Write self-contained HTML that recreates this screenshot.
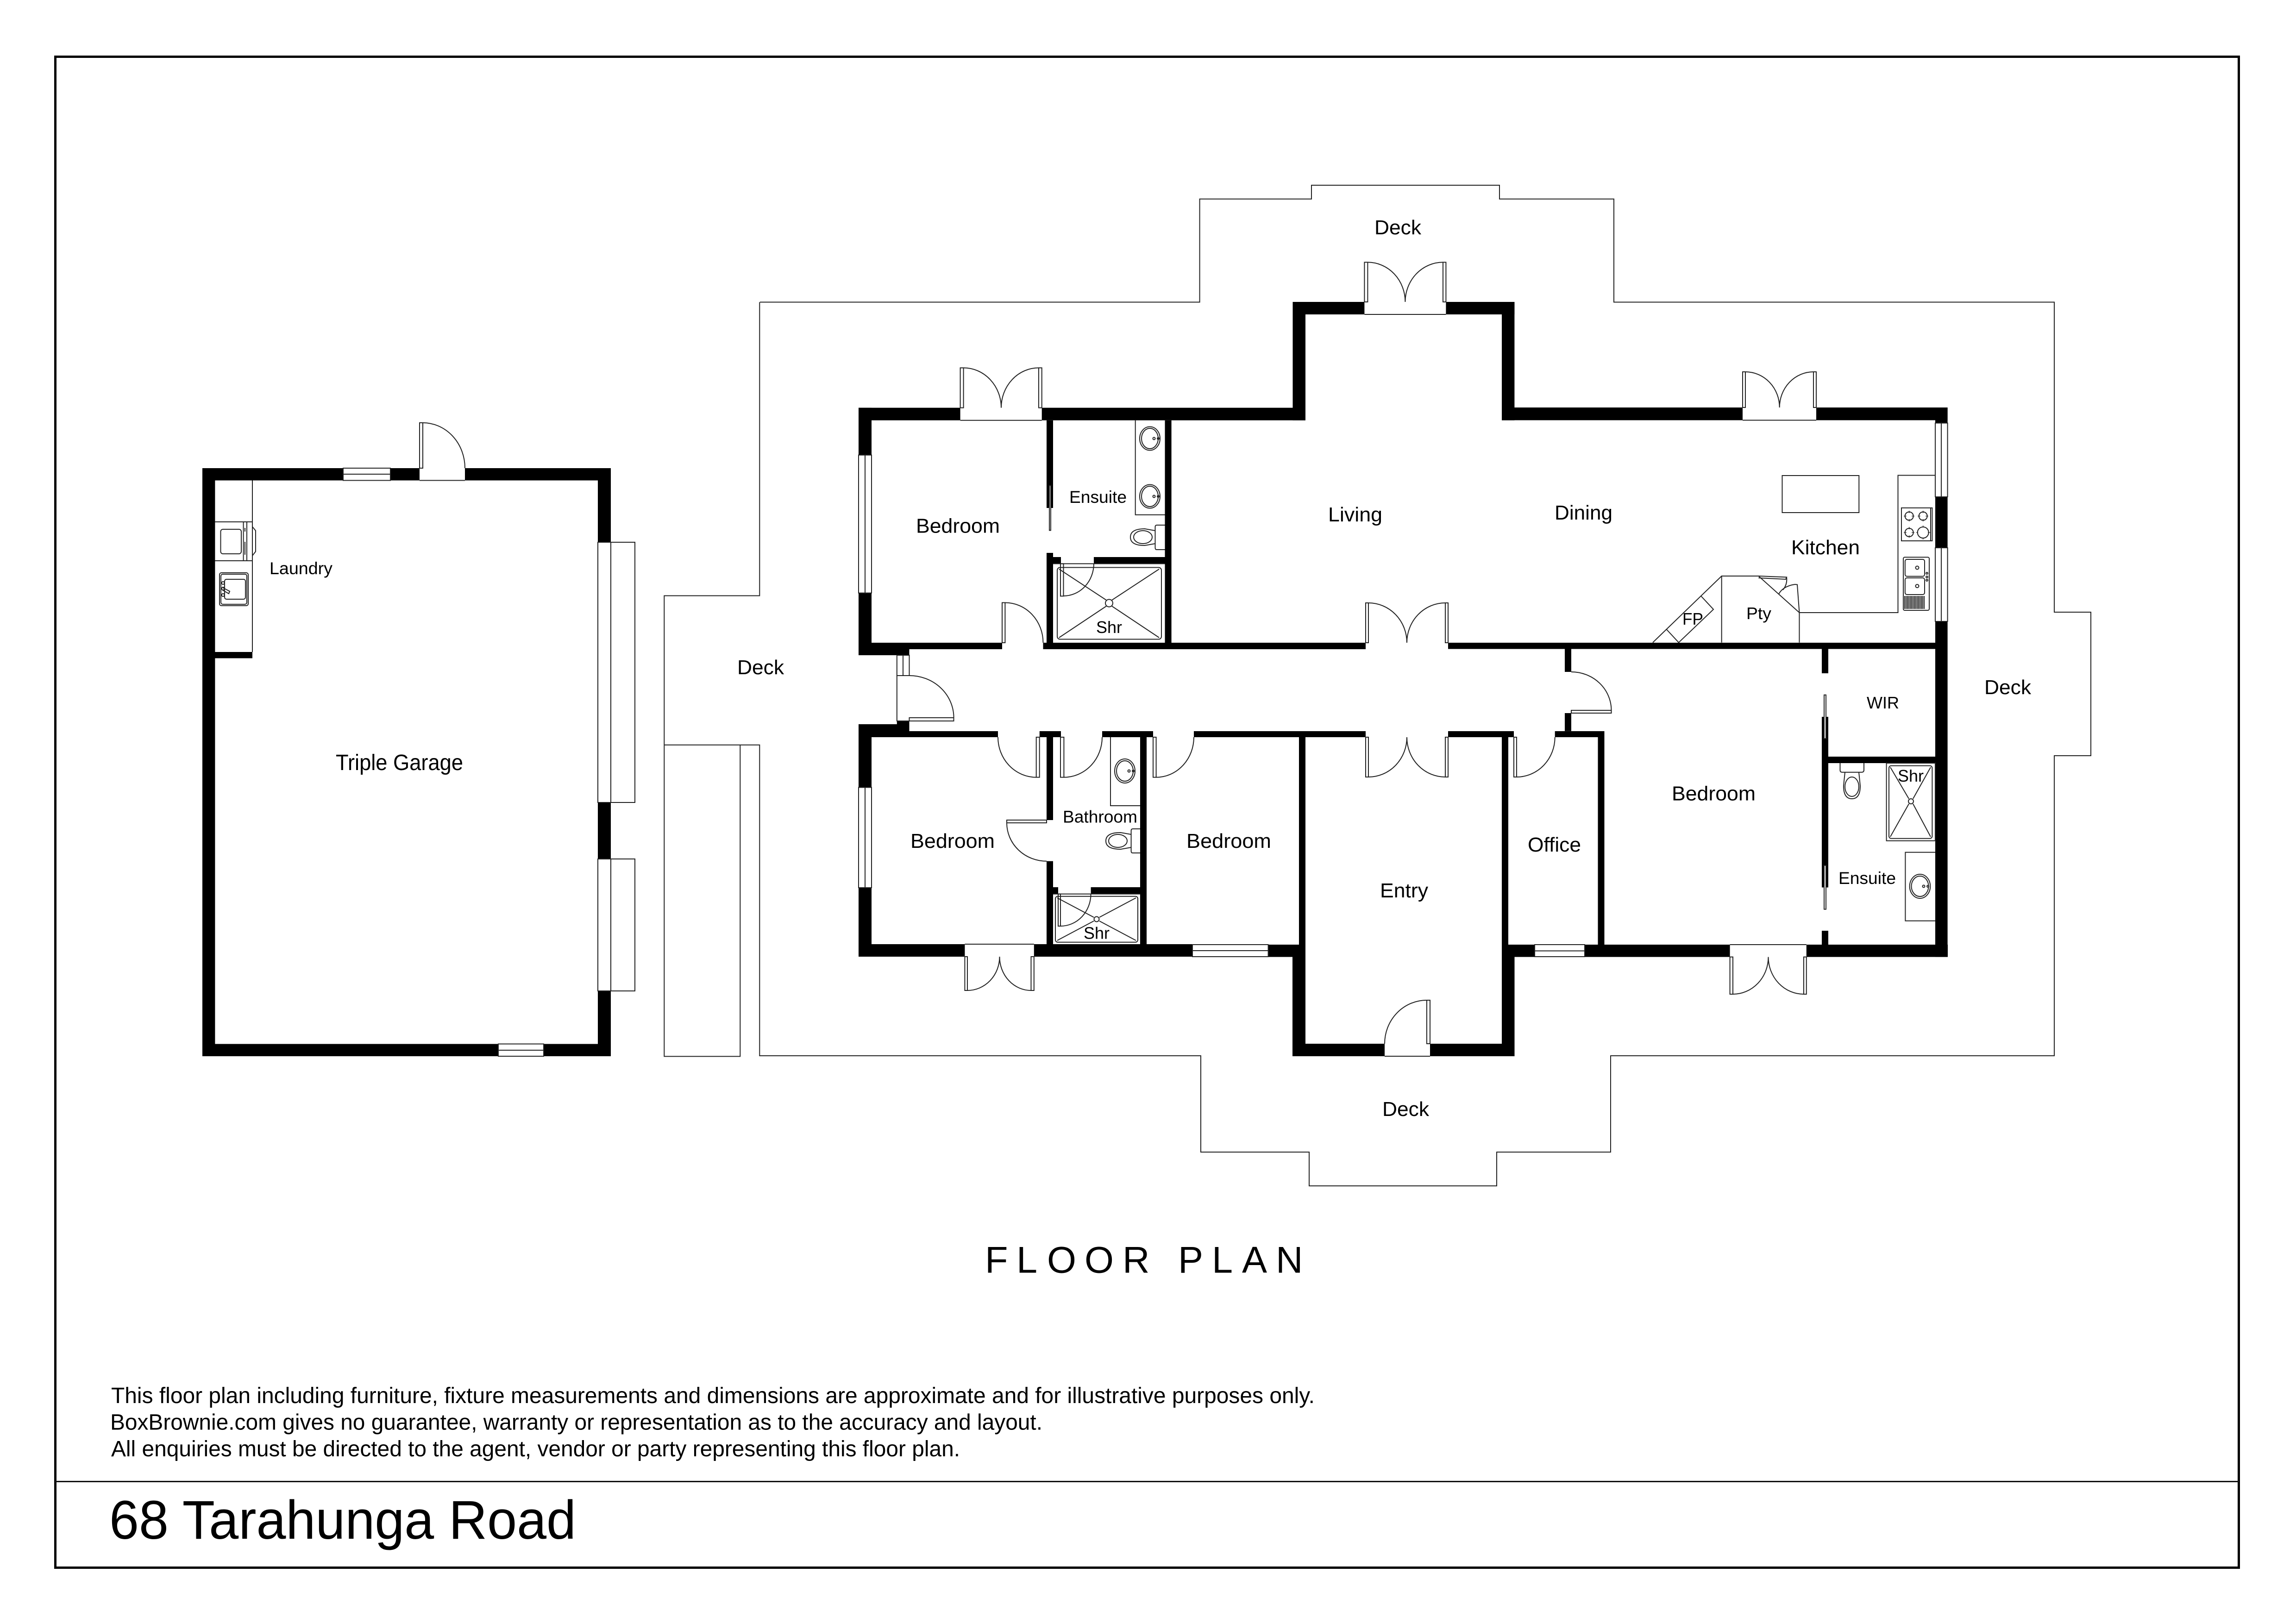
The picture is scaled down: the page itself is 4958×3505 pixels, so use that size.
<!DOCTYPE html>
<html><head><meta charset="utf-8"><title>68 Tarahunga Road floor plan</title>
<style>html,body{margin:0;padding:0;background:#fff}svg{display:block}
text{font-family:"Liberation Sans",Arial,sans-serif;fill:#000}
.l{fill:none;stroke:#222;stroke-width:2}.w{fill:#fff;stroke:#222;stroke-width:2}</style></head><body>
<svg width="4958" height="3505" viewBox="0 0 4958 3505" xmlns="http://www.w3.org/2000/svg">
<rect width="4958" height="3505" fill="#fff"/>
<rect x="119.5" y="122.5" width="4715" height="3263" fill="none" stroke="#000" stroke-width="5"/>
<path d="M119 3199.5H4835" stroke="#111" stroke-width="3"/>
<path class="l" d="M1641 652.5H2590.6V429.7H2832V400H3238V429.7H3485V652.5H4436V1322H4515V1632H4436V2280H3478V2488H3232V2561H2827V2488H2593V2280H1640.3V1608.7H1434.3V2281.4H1598.3V1608.7M1434.3 1608.7V1286.5H1640.3V652.5"/>
<g fill="#000">
<rect x="437" y="1011" width="304" height="26.5"/><rect x="843" y="1011" width="63" height="26.5"/><rect x="1004" y="1011" width="315" height="26.5"/>
<rect x="437" y="1011" width="27.4" height="1270"/><rect x="437" y="2254.5" width="639" height="26.5"/><rect x="1174" y="2254.5" width="145" height="26.5"/>
<rect x="1291" y="1011" width="28" height="160"/><rect x="1291" y="1733" width="28" height="122"/><rect x="1291" y="2140" width="28" height="141"/>
<rect x="464" y="1408" width="81" height="13.5"/>
<rect x="1854" y="880.6" width="219.6" height="27.1"/><rect x="2249.7" y="880.6" width="569.3" height="27.1"/>
<rect x="2791.5" y="652" width="27.5" height="255.7"/><rect x="2791.5" y="652" width="154.9" height="27"/><rect x="3122.4" y="652" width="148" height="27"/>
<rect x="3243" y="652" width="27.4" height="255.7"/><rect x="3243" y="880" width="520" height="27.5"/><rect x="3922" y="880" width="283.6" height="27.5"/>
<rect x="4179" y="880" width="26.6" height="33.6"/><rect x="4179" y="1073" width="26.6" height="110"/><rect x="4179" y="1342" width="26.6" height="724.6"/>
<rect x="1854" y="880.6" width="28" height="102.1"/><rect x="1854" y="1280.6" width="28" height="134.4"/><rect x="1854" y="1388" width="109.5" height="27"/>
<rect x="1963.5" y="1388" width="200.5" height="14"/><rect x="2252.5" y="1388" width="696.5" height="14"/><rect x="3127" y="1388" width="1052" height="13.5"/>
<rect x="2260" y="907.7" width="14" height="189.3"/><rect x="2260" y="1194" width="14" height="194"/><rect x="2274" y="1203" width="17" height="14.4"/><rect x="2362" y="1203" width="153.5" height="14.4"/>
<rect x="2515.5" y="907.7" width="14.1" height="480.3"/>
<rect x="1936.8" y="1557" width="26.7" height="35"/><rect x="1854" y="1564" width="109.5" height="28"/><rect x="1854" y="1564" width="28" height="136.5"/><rect x="1854" y="1917" width="28" height="149"/>
<rect x="1854" y="2039" width="229.4" height="27"/><rect x="2232.8" y="2039" width="342.2" height="27"/><rect x="2738.6" y="2040" width="80.4" height="26.6"/>
<rect x="1963.5" y="1579" width="191.5" height="13"/><rect x="2244.8" y="1579" width="46.2" height="13"/><rect x="2380" y="1579" width="110" height="13"/><rect x="2578" y="1579" width="371" height="13"/><rect x="3127" y="1579" width="142" height="13"/><rect x="3357.7" y="1579" width="106.8" height="13"/>
<rect x="2260" y="1592" width="14" height="179"/><rect x="2260" y="1859.7" width="14" height="179.3"/><rect x="2462" y="1592" width="14" height="447"/>
<rect x="2274" y="1916" width="11" height="14.6"/><rect x="2355.6" y="1916" width="106.4" height="14.6"/>
<rect x="2805" y="1592" width="14" height="448"/><rect x="2791" y="2040" width="28" height="241"/><rect x="2791" y="2254" width="199" height="27"/><rect x="3088" y="2254" width="182.5" height="27"/>
<rect x="3243" y="2040" width="27.5" height="241"/><rect x="3243" y="1592" width="14" height="448"/><rect x="3243" y="2040" width="71" height="26.6"/><rect x="3422" y="2040" width="313.6" height="26.6"/><rect x="3900.8" y="2040" width="305.2" height="26.6"/>
<rect x="3450.5" y="1592" width="14" height="448"/>
<rect x="3379" y="1401.5" width="14" height="49.5"/><rect x="3379" y="1540" width="14" height="38.8"/>
<rect x="3934" y="1401.5" width="14" height="52.5"/><rect x="3934" y="1548" width="14" height="368.5"/><rect x="3934" y="2010" width="14" height="30"/>
<rect x="3948" y="1634" width="231" height="14"/>
</g>
<g class="w" fill="#fff" stroke="#222" stroke-width="2">
<rect x="741" y="1011" width="102" height="26.5"/><path d="M741 1024H843"/>
<rect x="1076" y="2254.5" width="98" height="26.5"/><path d="M1076 2268H1174"/>
<rect x="1291" y="1171" width="28" height="562"/><rect x="1319" y="1171" width="52" height="562"/>
<rect x="1291" y="1855" width="28" height="285"/><rect x="1319" y="1855" width="52" height="285"/>
<rect x="1854" y="982.7" width="28" height="297.9"/><path d="M1868 982.7V1280.6"/>
<rect x="1854" y="1700.5" width="28" height="216.5"/><path d="M1868 1700.5V1917"/>
<rect x="2575" y="2040" width="163.6" height="26"/><path d="M2575 2053H2738.6"/>
<rect x="3314" y="2040" width="108" height="26"/><path d="M3314 2053.5H3422"/>
<rect x="4179" y="913.6" width="26.6" height="159.4"/><path d="M4192 913.6V1073"/>
<rect x="4179" y="1183" width="26.6" height="159"/><path d="M4192 1183V1342"/>
<rect x="1936.8" y="1415" width="26.7" height="44"/><path d="M1950 1415V1459"/>
</g>
<g class="l" fill="none" stroke="#222" stroke-width="2">
<path d="M906 1037.5H1004"/>
<path d="M2073.6 907.7H2249.7M2946.4 679H3122.4M3763 907.5H3922M2083.4 2039H2232.8M3735.6 2040H3900.8M2990 2281H3088"/>
<path d="M913 913A91 98 0 0 1 1004 1011"/><path fill="#fff" d="M906 913h7v98h-7z"/>
<path d="M2080.6 794.4A81.5 86.2 0 0 1 2162 880.6M2243 794.4A81 86.2 0 0 0 2162 880.6"/>
<path d="M2073.6 794.4h7v86.2h-7zM2243 794.4h6.7v86.2h-6.7z"/>
<path d="M2953.4 566.4A81 85.6 0 0 1 3034.4 652M3116 566.4A81.6 85.6 0 0 0 3034.4 652"/>
<path d="M2946.4 566.4h7v85.6h-7zM3116 566.4h6.4v85.6h-6.4z"/>
<path d="M3769 803A73.7 77 0 0 1 3842.7 880M3916 803A73.3 77 0 0 0 3842.7 880"/>
<path d="M3763 803h6v77h-6zM3916 803h6v77h-6z"/>
<path d="M2170.4 1301.5A82 86.5 0 0 1 2252.5 1388"/><path d="M2164 1301.5h6.4v86.5h-6.4z"/>
<path d="M1936.8 1459V1557H1963.5M1936.8 1459H1963.5"/><path d="M1963.5 1550h96v7h-96z"/>
<path d="M1963.5 1459A96 91 0 0 1 2059.6 1550"/>
<path d="M2237.7 1678.6A82.7 86.6 0 0 1 2155 1592"/><path d="M2237.7 1592h7v86.6h-7z"/>
<path d="M2297.4 1678.6A82.6 86.6 0 0 0 2380 1592"/><path d="M2290 1592h7.4v86.6h-7.4z"/>
<path d="M2496.6 1678.6A81.4 86.6 0 0 0 2578 1592"/><path d="M2490 1592h6.6v86.6h-6.6z"/>
<path d="M2174 1777A86 82.7 0 0 0 2260 1859.7"/><path d="M2174 1771h86v6h-86z"/>
<path d="M2089 2139A69.5 73 0 0 0 2158.5 2066M2226.5 2139A68 73 0 0 1 2158.5 2066"/>
<path d="M2083.4 2066h5.6v73h-5.6zM2226.5 2066h6.3v73h-6.3z"/>
<path d="M2955 1302A83 86 0 0 1 3038 1388M3121 1302A83 86 0 0 0 3038 1388"/>
<path d="M2949 1302h6v86h-6zM3121 1302h6v86h-6z"/>
<path d="M2955 1678A83 86 0 0 0 3038 1592M3121 1678A83 86 0 0 1 3038 1592"/>
<path d="M2949 1592h6v86h-6zM3121 1592h6v86h-6z"/>
<path d="M3275 1678A82.7 86 0 0 0 3357.7 1592"/><path d="M3269 1592h6v86h-6z"/>
<path d="M3393 1451A86.5 83 0 0 1 3479.5 1534"/><path d="M3393 1534h86.5v6h-86.5z"/>
<path d="M3081 2160A91 94 0 0 0 2990 2254"/><path d="M3081 2160h7v94h-7z"/>
<path d="M3742 2147A76.5 80.4 0 0 0 3818.5 2066.6M3895 2147A76.5 80.4 0 0 1 3818.5 2066.6"/>
<path d="M3735.6 2066.6h6.4v80.4h-6.4zM3895 2066.6h5.8v80.4h-5.8z"/>
<path fill="#fff" d="M2266 1048.5h3v96.9h-3zM3939 1500.7h4v94.3h-4zM3939 1869h4v94.6h-4z"/>
<path d="M2451.7 907.7V1111.7H2515.5"/>
<ellipse cx="2483" cy="947" rx="22" ry="25.5"/><ellipse cx="2483" cy="947" rx="18" ry="22"/><circle cx="2492" cy="947" r="2.5"/><circle cx="2501" cy="947" r="2"/>
<ellipse cx="2483" cy="1072" rx="22" ry="25.5"/><ellipse cx="2483" cy="1072" rx="18" ry="22"/><circle cx="2492" cy="1072" r="2.5"/><circle cx="2501" cy="1072" r="2"/>
<path d="M2515.5 1134H2498Q2494.5 1134 2494.5 1138V1183Q2494.5 1187 2498 1187H2515.5"/>
<path d="M2494.5 1146L2472 1142Q2441 1142 2441 1160Q2441 1178 2472 1178L2494.5 1174"/><ellipse cx="2468" cy="1160" rx="20" ry="14"/>
<rect x="2283" y="1225.5" width="225" height="155" rx="6"/>
<path d="M2287 1229L2389 1296M2503 1229L2401 1296M2287 1377L2389 1309M2503 1377L2401 1309"/><ellipse cx="2395" cy="1302.5" rx="8" ry="8"/>
<path d="M2296.5 1287A65.5 70 0 0 0 2362 1217M2274 1217.4H2515.5"/><path d="M2290 1217.4h6.5v70h-6.5z"/>
<path d="M2398 1592V1740H2462"/>
<ellipse cx="2429" cy="1665" rx="22" ry="26"/><ellipse cx="2429" cy="1665" rx="18" ry="22"/><circle cx="2438" cy="1665" r="2.5"/><circle cx="2447" cy="1665" r="2"/>
<path d="M2462 1790H2446Q2442.6 1790 2442.6 1794V1838Q2442.6 1842 2446 1842H2462"/>
<path d="M2442.6 1802L2420 1798Q2388 1798 2388 1816Q2388 1834 2420 1834L2442.6 1830"/><ellipse cx="2414" cy="1816" rx="20" ry="14"/>
<rect x="2279" y="1935.7" width="178" height="99" rx="5"/>
<path d="M2283 1939L2362 1981M2453 1939L2374 1981M2283 2031L2362 1989M2453 2031L2374 1989"/><circle cx="2368" cy="1985" r="5.5"/>
<path d="M2290 2000A65.6 69.4 0 0 0 2355.6 1930.6M2274 1930.6H2462"/><path d="M2285 1930.6h5v69.4h-5z"/>
<path d="M3973.5 1648V1663Q3973.5 1667.7 3978 1667.7H4020Q4025 1667.7 4025 1663V1648"/>
<path d="M3984 1667.7L3981 1697Q3981 1725 3999 1725Q4017 1725 4017 1697L4014 1667.7"/><ellipse cx="3999" cy="1699" rx="15" ry="21"/>
<rect x="4073.6" y="1648" width="105.4" height="167.7"/><rect x="4079" y="1653.6" width="93.4" height="157.2" rx="5"/>
<path d="M4082 1657L4122 1725M4169 1657L4131 1725M4082 1807L4122 1736M4169 1807L4131 1736"/><circle cx="4126.5" cy="1730.5" r="5.5"/>
<path d="M4179 1840.6H4114.4V1988.6H4179"/>
<ellipse cx="4146" cy="1914" rx="22.3" ry="26"/><ellipse cx="4146" cy="1914" rx="18.5" ry="22"/><circle cx="4154" cy="1914" r="2.5"/><circle cx="4163" cy="1914" r="2"/>
<path d="M4179 1026.5H4098.5V1323H3885.5V1387.6M3717.7 1387.6V1244H3797.4L3885.5 1323"/>
<rect x="3848.5" y="1027" width="165.8" height="80"/>
<rect x="4106" y="1096.8" width="66.4" height="71.2"/><path d="M4169 1096.8V1168"/>
<circle cx="4122.7" cy="1114.5" r="9"/><circle cx="4152.7" cy="1114.5" r="9"/><circle cx="4122.7" cy="1150" r="9"/><circle cx="4152.7" cy="1150" r="12"/>
<path stroke-width="1.3" d="M4111 1114.5h6M4128 1114.5h6M4141 1114.5h6M4158 1114.5h6M4111 1150h6M4128 1150h6M4138 1150h4M4163 1150h5M4122.7 1103v5M4152.7 1103v5M4122.7 1121v5M4152.7 1121v5M4122.7 1138v5M4122.7 1156v5M4152.7 1135v4M4152.7 1161v4"/>
<rect x="4110" y="1203.4" width="56" height="114.6" rx="3"/>
<rect x="4113.8" y="1208" width="42.2" height="36.6" rx="4"/><rect x="4113.8" y="1248" width="42.2" height="36" rx="4"/>
<circle cx="4140" cy="1226" r="3.5"/><circle cx="4140" cy="1265.6" r="3.5"/><circle cx="4161" cy="1238" r="2"/><circle cx="4161" cy="1246" r="2"/><circle cx="4161" cy="1253" r="2"/>
<path d="M4113 1287V1315M4116 1287V1315M4119 1287V1315M4122 1287V1315M4125 1287V1315M4128 1287V1315M4131 1287V1315M4134 1287V1315M4137 1287V1315M4140 1287V1315M4143 1287V1315M4146 1287V1315M4149 1287V1315M4152 1287V1315M4155 1287V1315"/>
<path d="M3717.7 1244L3569 1387.6M3673 1287L3700 1316L3625 1387.6L3598.5 1359M3797.4 1244L3858 1246.5L3856 1251L3797.4 1248M3858 1246.5Q3860 1262 3850 1274M3876 1262L3881 1262.5L3885.5 1323M3876 1262Q3850 1266 3841 1283"/>
<path d="M545 1037.5V1408M464 1127H545M464 1211H545"/>
<rect x="476.5" y="1143" width="44.5" height="53" rx="5"/>
<path d="M525.6 1127V1211M533 1127V1211M529 1140V1148M529 1170V1198M545 1137.5L552 1146V1191L545 1200"/>
<rect x="474" y="1237" width="62" height="71" rx="4"/><rect x="477" y="1240" width="56" height="65" rx="4"/>
<rect x="485" y="1251" width="45" height="43" rx="4"/>
<circle cx="481.6" cy="1259" r="3"/><circle cx="481.6" cy="1271" r="3"/><circle cx="481.6" cy="1285" r="3"/><path d="M481 1269L496 1277L494 1282L480 1274"/>
</g>
<text x="582" y="1240" font-size="37" textLength="136" lengthAdjust="spacingAndGlyphs">Laundry</text>
<text x="725" y="1663" font-size="48" textLength="275" lengthAdjust="spacingAndGlyphs">Triple Garage</text>
<text x="1978" y="1150.5" font-size="44" textLength="181" lengthAdjust="spacingAndGlyphs">Bedroom</text>
<text x="2309" y="1086" font-size="37" textLength="124" lengthAdjust="spacingAndGlyphs">Ensuite</text>
<text x="2367" y="1367" font-size="36" textLength="56" lengthAdjust="spacingAndGlyphs">Shr</text>
<text x="2868" y="1126" font-size="44" textLength="117" lengthAdjust="spacingAndGlyphs">Living</text>
<text x="3357" y="1122" font-size="44" textLength="125" lengthAdjust="spacingAndGlyphs">Dining</text>
<text x="3868" y="1197" font-size="44" textLength="148" lengthAdjust="spacingAndGlyphs">Kitchen</text>
<text x="3633" y="1349" font-size="36" textLength="45" lengthAdjust="spacingAndGlyphs">FP</text>
<text x="3771" y="1337" font-size="36" textLength="54" lengthAdjust="spacingAndGlyphs">Pty</text>
<text x="1966" y="1831" font-size="44" textLength="182" lengthAdjust="spacingAndGlyphs">Bedroom</text>
<text x="2562" y="1831" font-size="44" textLength="183" lengthAdjust="spacingAndGlyphs">Bedroom</text>
<text x="2295" y="1776.5" font-size="37" textLength="161" lengthAdjust="spacingAndGlyphs">Bathroom</text>
<text x="2340" y="2027.5" font-size="36" textLength="56" lengthAdjust="spacingAndGlyphs">Shr</text>
<text x="2980" y="1938" font-size="44" textLength="104" lengthAdjust="spacingAndGlyphs">Entry</text>
<text x="3299" y="1839" font-size="44" textLength="115" lengthAdjust="spacingAndGlyphs">Office</text>
<text x="3610" y="1728.4" font-size="44" textLength="181" lengthAdjust="spacingAndGlyphs">Bedroom</text>
<text x="4031" y="1530" font-size="36" textLength="70" lengthAdjust="spacingAndGlyphs">WIR</text>
<text x="4098" y="1688" font-size="36" textLength="56" lengthAdjust="spacingAndGlyphs">Shr</text>
<text x="3970" y="1909" font-size="37" textLength="124" lengthAdjust="spacingAndGlyphs">Ensuite</text>
<text x="2968" y="506" font-size="44" textLength="101" lengthAdjust="spacingAndGlyphs">Deck</text>
<text x="1592" y="1456" font-size="44" textLength="101" lengthAdjust="spacingAndGlyphs">Deck</text>
<text x="4285" y="1499" font-size="44" textLength="101" lengthAdjust="spacingAndGlyphs">Deck</text>
<text x="2985" y="2410" font-size="44" textLength="101" lengthAdjust="spacingAndGlyphs">Deck</text>
<text y="2748.7" font-size="81" x="2127 2195 2261 2342 2424 2500 2544 2617 2682 2755">FLOOR PLAN</text>
<text x="240" y="3030" font-size="48" textLength="2599" lengthAdjust="spacingAndGlyphs">This floor plan including furniture, fixture measurements and dimensions are approximate and for illustrative purposes only.</text>
<text x="238" y="3087.5" font-size="48" textLength="2013" lengthAdjust="spacingAndGlyphs">BoxBrownie.com gives no guarantee, warranty or representation as to the accuracy and layout.</text>
<text x="240" y="3145" font-size="48" textLength="1833" lengthAdjust="spacingAndGlyphs">All enquiries must be directed to the agent, vendor or party representing this floor plan.</text>
<text x="236" y="3323" font-size="118" textLength="1008" lengthAdjust="spacingAndGlyphs">68 Tarahunga Road</text>
</svg>
</body></html>
